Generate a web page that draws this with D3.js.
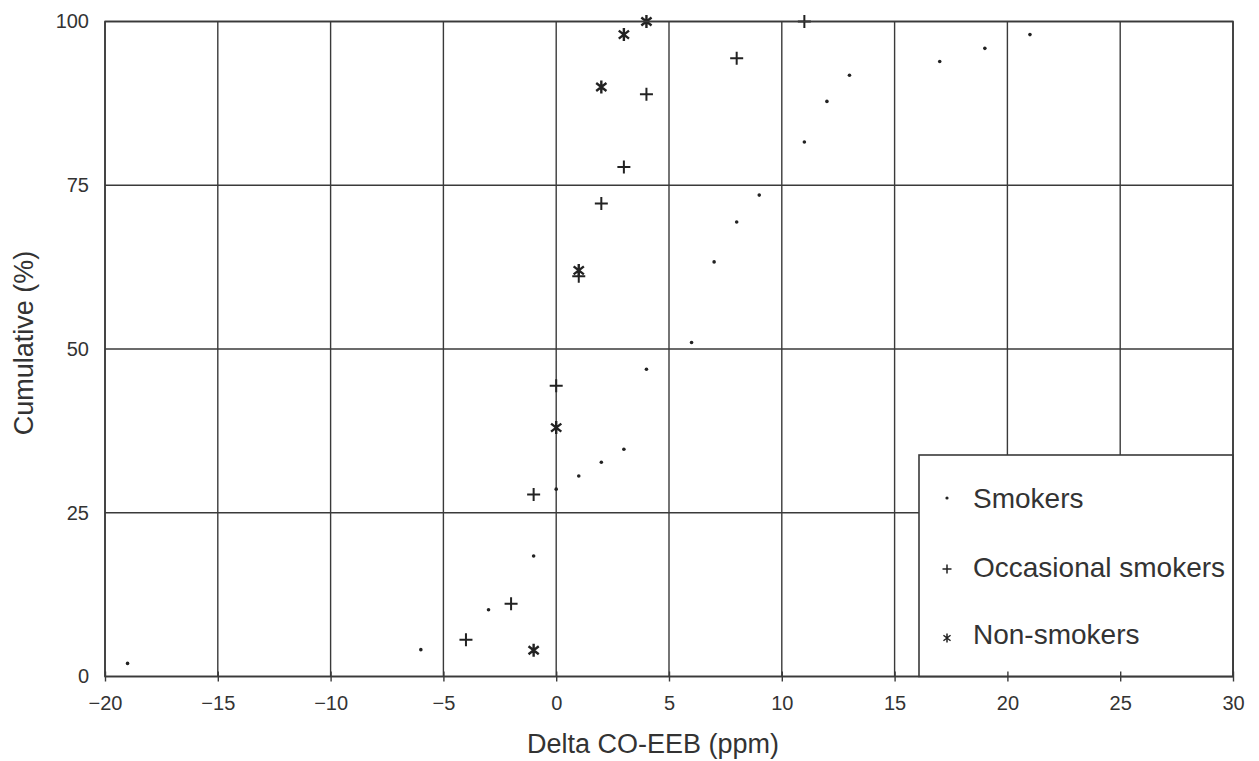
<!DOCTYPE html>
<html>
<head>
<meta charset="utf-8">
<script src="https://cdn.jsdelivr.net/npm/d3@7"></script>
<style>
  html, body { margin: 0; padding: 0; background: #fff; }
  svg { display: block; }
  text { font-family: "Liberation Sans", Arial, Helvetica, sans-serif; fill: #333; }
</style>
</head>
<body>
<svg id="chart" width="1259" height="761"></svg>
<script>
// ---- Data ----
const smokersX = [-19, -6, -3, -1, 0, 1, 2, 3, 4, 6, 7, 8, 9, 11, 12, 13, 17, 19, 21];
const smokersY = [2.0, 4.1, 10.2, 18.4, 28.6, 30.6, 32.7, 34.7, 46.9, 51.0, 63.3, 69.4, 73.5, 81.6, 87.8, 91.8, 93.9, 95.9, 98.0];

const occasionalX = [-4, -2, -1, 0, 1, 2, 3, 4, 8, 11];
const occasionalY = [5.6, 11.1, 27.8, 44.4, 61.1, 72.2, 77.8, 88.9, 94.4, 100];

const nonSmokersX = [-1, 0, 1, 2, 3, 4];
const nonSmokersY = [4, 38, 62, 90, 98, 100];

const xTicks = [-20, -15, -10, -5, 0, 5, 10, 15, 20, 25, 30];
const yTicks = [0, 25, 50, 75, 100];
const legendLabels = ["Smokers", "Occasional smokers", "Non-smokers"];
const xTitle = "Delta CO-EEB (ppm)";
const yTitle = "Cumulative (%)";

(function () {
// ---- Layout ----
const svg = d3.select("#chart");
const pLeft = 105, pRight = 1233, pTop = 21.5, pBottom = 676.5;
const ink = "#3a3a3a";

const x = d3.scaleLinear().domain([-20, 30]).range([pLeft, pRight]);
const y = d3.scaleLinear().domain([0, 100]).range([pBottom, pTop]);

// grid
const grid = svg.append("g").attr("stroke", ink).attr("stroke-width", 1.4);
grid.selectAll("line.v").data(xTicks).join("line")
  .attr("class", "v")
  .attr("x1", d => x(d)).attr("x2", d => x(d))
  .attr("y1", pTop).attr("y2", pBottom);
grid.selectAll("line.h").data(yTicks).join("line")
  .attr("class", "h")
  .attr("x1", pLeft).attr("x2", pRight)
  .attr("y1", d => y(d)).attr("y2", d => y(d));

// markers
const pts = svg.append("g");
function zip(xs, ys) { return xs.map((v, i) => [v, ys[i]]); }

pts.append("g").selectAll("circle").data(zip(smokersX, smokersY)).join("circle")
  .attr("cx", d => x(d[0])).attr("cy", d => y(d[1])).attr("r", 1.8).attr("fill", "#222");

const plusPath = (h) => `M${-h},0H${h}M0,${-h}V${h}`;
function starPath(h) {
  const a = 38 * Math.PI / 180;
  const dx = h * Math.cos(a), dy = h * Math.sin(a);
  return `M0,${-h}V${h}M${-dx},${-dy}L${dx},${dy}M${-dx},${dy}L${dx},${-dy}`;
}

pts.append("g").selectAll("path").data(zip(occasionalX, occasionalY)).join("path")
  .attr("transform", d => `translate(${x(d[0])},${y(d[1])})`)
  .attr("d", plusPath(6.5)).attr("stroke", "#222").attr("stroke-width", 2).attr("fill", "none");

pts.append("g").selectAll("path").data(zip(nonSmokersX, nonSmokersY)).join("path")
  .attr("transform", d => `translate(${x(d[0])},${y(d[1])})`)
  .attr("d", starPath(6.5)).attr("stroke", "#222").attr("stroke-width", 2.4).attr("fill", "none");

// legend box
const lg = svg.append("g");
const lx0 = 919, ly0 = 455;
lg.append("rect").attr("x", lx0).attr("y", ly0)
  .attr("width", pRight - lx0).attr("height", pBottom - ly0)
  .attr("fill", "#fff").attr("stroke", ink).attr("stroke-width", 1.6);
const rowY = [498, 567, 634];
const symX = 947, txtX = 973;
lg.append("circle").attr("cx", symX).attr("cy", rowY[0]).attr("r", 1.6).attr("fill", "#222");
lg.append("path").attr("transform", `translate(${symX},${rowY[1] + 2})`)
  .attr("d", plusPath(4.5)).attr("stroke", "#222").attr("stroke-width", 1.5).attr("fill", "none");
lg.append("path").attr("transform", `translate(${symX},${rowY[2] + 4})`)
  .attr("d", starPath(4.5)).attr("stroke", "#222").attr("stroke-width", 1.5).attr("fill", "none");
lg.selectAll("text").data(legendLabels).join("text")
  .attr("x", txtX).attr("y", (d, i) => rowY[i])
  .attr("dy", "0.35em")
  .attr("font-size", 28)
  .text(d => d);

// frame
svg.append("rect").attr("x", pLeft).attr("y", pTop)
  .attr("width", pRight - pLeft).attr("height", pBottom - pTop)
  .attr("fill", "none").attr("stroke", ink).attr("stroke-width", 1.6);

// x axis
const xAxis = svg.append("g").attr("transform", `translate(0,${pBottom})`)
  .call(d3.axisBottom(x).tickValues(xTicks).tickSize(5).tickPadding(14));
xAxis.select(".domain").remove();
xAxis.selectAll(".tick line").attr("y1", -5).attr("y2", 5).attr("stroke", ink).attr("stroke-width", 1.4);
xAxis.selectAll(".tick text").attr("font-size", 20).attr("fill", "#333")
  .attr("font-family", "'Liberation Sans', Arial, sans-serif");

// y axis
const yAxis = svg.append("g").attr("transform", `translate(${pLeft},0)`)
  .call(d3.axisLeft(y).tickValues(yTicks).tickSize(0).tickPadding(16));
yAxis.select(".domain").remove();
yAxis.selectAll(".tick text").attr("font-size", 20).attr("fill", "#333")
  .attr("font-family", "'Liberation Sans', Arial, sans-serif");

// titles
svg.append("text").attr("x", 653).attr("y", 753)
  .attr("text-anchor", "middle").attr("font-size", 27).text(xTitle);
svg.append("text").attr("transform", `translate(33,343) rotate(-90)`)
  .attr("text-anchor", "middle").attr("font-size", 27).text(yTitle);
})();
</script>
</body>
</html>
